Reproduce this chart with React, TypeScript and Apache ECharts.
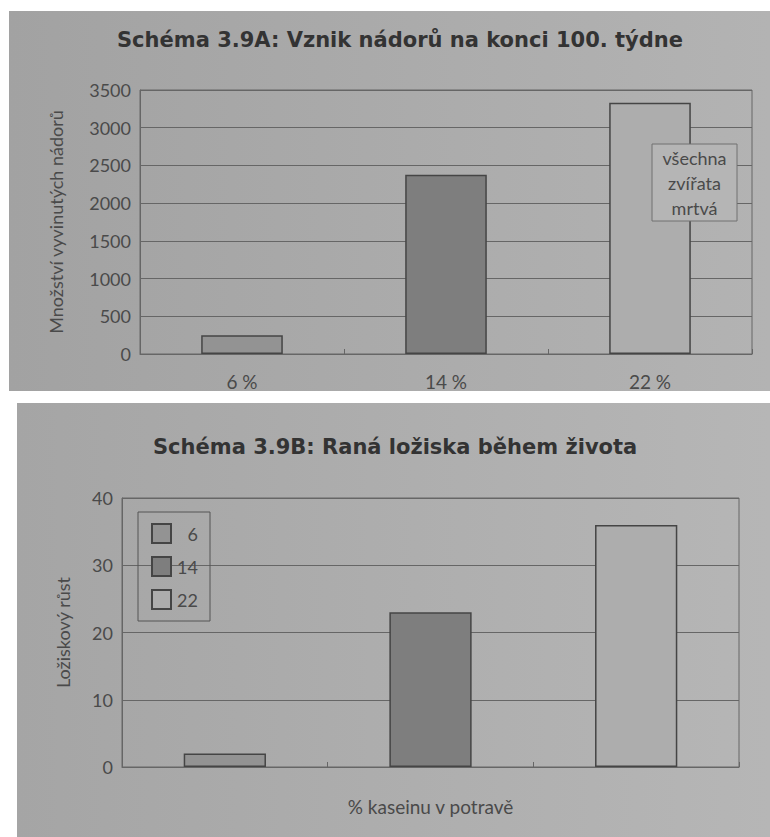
import React, { useEffect, useRef } from "react";
import * as echarts from "echarts";

// Diagram A: tumours developed by the end of week 100
const caseinLevels = ["6 %", "14 %", "22 %"];
const tumorCounts = [250, 2375, 3330];
const tumorAxisMax = 3500;
const tumorAxisStep = 500;

// Diagram B: early foci over the lifetime
const fociGroups = ["6", "14", "22"];
const fociValues = [2, 23, 36];
const fociAxisMax = 40;
const fociAxisStep = 10;

const barFills = ["#939393", "#7e7e7e", "#adadad"];

const FONT = "Lato, 'Open Sans', 'DejaVu Sans', sans-serif";
const TITLE_FONT = "'DejaVu Sans', 'Open Sans', sans-serif";
const LABEL = "#4a4a4a";
const GRID_LINE = "#666666";
const BAR_EDGE = "#454545";

export default function App() {
  const ref = useRef<HTMLDivElement>(null);

  useEffect(() => {
    document.body.style.margin = "0";
    if (!ref.current) return;
    const chart = echarts.init(ref.current, null, {
      renderer: "svg",
      width: 770,
      height: 837,
    });

    const panelFill = (c0: string, c1: string) =>
      new echarts.graphic.LinearGradient(0, 0, 1, 0, [
        { offset: 0, color: c0 },
        { offset: 1, color: c1 },
      ]);

    const valueAxisCommon = {
      type: "value" as const,
      nameLocation: "middle" as const,
      nameRotate: 90,
      nameTextStyle: { color: LABEL, fontFamily: FONT, fontSize: 18 },
      axisLine: { show: true, lineStyle: { color: GRID_LINE, width: 1 } },
      axisTick: { show: false },
      axisLabel: {
        color: LABEL,
        fontFamily: FONT,
        fontSize: 18,
        margin: 9,
        formatter: (v: number) => String(v),
      },
      splitLine: { show: true, lineStyle: { color: GRID_LINE, width: 1 } },
    };

    const categoryAxisCommon = {
      type: "category" as const,
      axisLine: { show: true, lineStyle: { color: GRID_LINE, width: 1 } },
      axisTick: {
        show: true,
        inside: true,
        length: 5,
        alignWithLabel: false,
        lineStyle: { color: GRID_LINE },
      },
    };

    chart.setOption({
      animation: false,
      backgroundColor: "#ffffff",
      graphic: [
        {
          type: "rect",
          z: -100,
          silent: true,
          shape: { x: 9, y: 11, width: 761, height: 380 },
          style: { fill: panelFill("#a2a2a2", "#b3b3b3") },
        },
        {
          type: "rect",
          z: -100,
          silent: true,
          shape: { x: 17, y: 403, width: 753, height: 434 },
          style: { fill: panelFill("#a5a5a5", "#b6b6b6") },
        },
        // note box laid over the 22 % bar
        {
          type: "rect",
          z: 100,
          silent: true,
          shape: { x: 652, y: 144, width: 85, height: 77 },
          style: { fill: "#b5b5b5", stroke: "#707070", lineWidth: 1 },
        },
        {
          type: "text",
          z: 101,
          silent: true,
          x: 694.5,
          y: 183,
          style: {
            text: "všechna\nzvířata\nmrtvá",
            fill: LABEL,
            font: `18px ${FONT}`,
            lineHeight: 25,
            align: "center",
            verticalAlign: "middle",
          },
        },
      ],
      title: [
        {
          text: "Schéma 3.9A: Vznik nádorů na konci 100. týdne",
          left: 117,
          top: 29,
          padding: 0,
          textStyle: {
            color: "#333333",
            fontFamily: TITLE_FONT,
            fontWeight: "bold",
            fontSize: 21,
          },
        },
        {
          text: "Schéma 3.9B: Raná ložiska během života",
          left: 153,
          top: 436,
          padding: 0,
          textStyle: {
            color: "#333333",
            fontFamily: TITLE_FONT,
            fontWeight: "bold",
            fontSize: 21,
          },
        },
      ],
      legend: {
        orient: "vertical",
        left: 138,
        top: 512,
        padding: [11, 12, 11, 13],
        itemWidth: 19,
        itemHeight: 19,
        itemGap: 12,
        icon: "rect",
        backgroundColor: "rgba(0,0,0,0)",
        borderColor: "#555555",
        borderWidth: 1,
        data: fociGroups,
        formatter: "{n|{name}}",
        textStyle: {
          color: LABEL,
          fontFamily: FONT,
          fontSize: 18,
          rich: {
            n: { width: 22, align: "right", fontSize: 18, fontFamily: FONT, color: LABEL },
          },
        },
      },
      grid: [
        {
          left: 140,
          right: 18,
          top: 90,
          bottom: 483,
          show: true,
          backgroundColor: "transparent",
          borderColor: GRID_LINE,
          borderWidth: 1,
        },
        {
          left: 122,
          right: 31,
          top: 498,
          bottom: 70,
          show: true,
          backgroundColor: "transparent",
          borderColor: GRID_LINE,
          borderWidth: 1,
        },
      ],
      xAxis: [
        {
          ...categoryAxisCommon,
          gridIndex: 0,
          data: caseinLevels,
          axisLabel: { color: LABEL, fontFamily: FONT, fontSize: 19, margin: 18 },
        },
        {
          ...categoryAxisCommon,
          gridIndex: 1,
          data: fociGroups,
          axisLabel: { show: false },
          name: "% kaseinu v potravě",
          nameLocation: "middle",
          nameGap: 30,
          nameTextStyle: { color: LABEL, fontFamily: FONT, fontSize: 19 },
        },
      ],
      yAxis: [
        {
          ...valueAxisCommon,
          gridIndex: 0,
          min: 0,
          max: tumorAxisMax,
          interval: tumorAxisStep,
          name: "Množství vyvinutých nádorů",
          nameGap: 75,
        },
        {
          ...valueAxisCommon,
          gridIndex: 1,
          min: 0,
          max: fociAxisMax,
          interval: fociAxisStep,
          name: "Ložiskový růst",
          nameGap: 50,
        },
      ],
      series: [
        {
          type: "bar",
          name: "nádory",
          xAxisIndex: 0,
          yAxisIndex: 0,
          barWidth: "40%",
          data: tumorCounts.map((v, i) => ({
            value: v,
            itemStyle: { color: barFills[i] },
          })),
          itemStyle: { borderColor: BAR_EDGE, borderWidth: 1.5 },
        },
        ...fociGroups.map((g, i) => ({
          type: "bar",
          name: g,
          xAxisIndex: 1,
          yAxisIndex: 1,
          barWidth: "40%",
          barGap: "-100%",
          data: fociValues.map((v, j) => (j === i ? v : "-")),
          itemStyle: { color: barFills[i], borderColor: BAR_EDGE, borderWidth: 1.5 },
        })),
      ],
    });

    return () => chart.dispose();
  }, []);

  return (
    <div
      ref={ref}
      style={{ position: "absolute", left: 0, top: 0, width: 770, height: 837 }}
    />
  );
}
